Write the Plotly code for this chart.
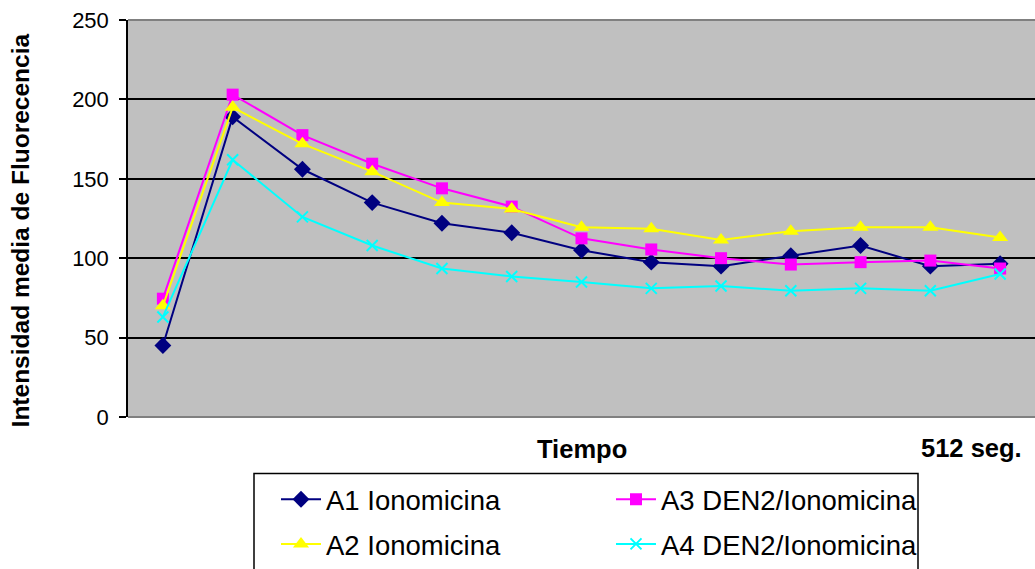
import plotly.graph_objects as go

# ---- data ----
time_points = list(range(1, 14))
a1_ionomicina = [45, 189, 156, 135, 122, 116, 105, 97.5, 95, 101.5, 108, 95, 96.5]
a3_den2 = [74.5, 203, 177.5, 159.5, 144, 132.5, 112.5, 105.5, 100, 96, 97.5, 98.5, 93.5]
a2_ionomicina = [70, 195, 172, 154.5, 135, 131, 119.5, 118.5, 111.5, 117, 119.5, 119.5, 113]
a4_den2 = [63, 162, 126, 108, 93.5, 88.5, 85, 81, 82.5, 79.5, 81, 79.5, 90]

y_ticks = [0, 50, 100, 150, 200, 250]

FONT = "Arial, Liberation Sans, sans-serif"

series = [
    ("A1 Ionomicina", a1_ionomicina, "#000080", "diamond", 13, "legend"),
    ("A3 DEN2/Ionomicina", a3_den2, "#FF00FF", "square", 12, "legend2"),
    ("A2 Ionomicina", a2_ionomicina, "#FFFF00", "triangle-up", 14, "legend3"),
    ("A4 DEN2/Ionomicina", a4_den2, "#00FFFF", "x-thin", 11, "legend4"),
]

fig = go.Figure()
for name, vals, color, sym, size, leg in series:
    fig.add_trace(go.Scatter(
        x=time_points, y=vals, name=name, mode="lines+markers",
        line=dict(color=color, width=2),
        marker=dict(symbol=sym, size=size, color=color,
                    line=dict(color=color, width=2 if sym == "x-thin" else 0)),
        legend=leg,
    ))

W, H = 1035, 569
L, R, T, B = 128, 0, 20, 149
pw, ph = W - L - R, H - T - B

def px_x(px):
    return (px - L) / pw

def px_y(py):
    return (H - B - py) / ph

legend_common = dict(font=dict(family=FONT, size=27.5, color="black"),
                     bgcolor="rgba(0,0,0,0)", borderwidth=0,
                     xanchor="left", yanchor="middle", itemwidth=40)

fig.update_layout(
    width=W, height=H,
    margin=dict(l=L, r=R, t=T, b=B),
    paper_bgcolor="white",
    plot_bgcolor="#C0C0C0",
    font=dict(family=FONT, color="black"),
    showlegend=True,
    legend=dict(x=px_x(276), y=px_y(503), **legend_common),
    legend2=dict(x=px_x(611), y=px_y(503), **legend_common),
    legend3=dict(x=px_x(276), y=px_y(548), **legend_common),
    legend4=dict(x=px_x(611), y=px_y(548), **legend_common),
    xaxis=dict(
        range=[0.5, 13.5], showticklabels=False, ticks="", showgrid=False,
        zeroline=False, showline=False,
    ),
    yaxis=dict(
        range=[0, 250], tickvals=y_ticks, ticks="outside", ticklen=7,
        tickcolor="black", tickwidth=1.5,
        tickfont=dict(family=FONT, size=22, color="black"),
        ticklabelstandoff=6,
        showgrid=True, gridcolor="black", gridwidth=2,
        zeroline=False, showline=True, linecolor="black", linewidth=1.5,
    ),
    shapes=[
        dict(type="line", xref="paper", yref="paper", x0=0, x1=1, y0=1, y1=1,
             line=dict(color="#808080", width=2), layer="above"),
        dict(type="line", xref="paper", yref="paper", x0=0, x1=1, y0=0, y1=0,
             line=dict(color="#808080", width=2), layer="above"),
        dict(type="rect", xref="paper", yref="paper",
             x0=px_x(254), x1=px_x(918), y0=px_y(477), y1=px_y(575),
             line=dict(color="black", width=1.5), fillcolor="rgba(0,0,0,0)"),
    ],
    annotations=[
        dict(text="<b>Intensidad media de Fluorecencia</b>", xref="paper", yref="paper",
             x=px_x(20), y=px_y(232), textangle=-90, showarrow=False,
             xanchor="center", yanchor="middle",
             font=dict(family=FONT, size=24.5, color="black")),
        dict(text="<b>Tiempo</b>", xref="paper", yref="paper",
             x=px_x(582), y=px_y(452), showarrow=False,
             xanchor="center", yanchor="middle",
             font=dict(family=FONT, size=25.5, color="black")),
        dict(text="<b>512 seg.</b>", xref="paper", yref="paper",
             x=px_x(971), y=px_y(451), showarrow=False,
             xanchor="center", yanchor="middle",
             font=dict(family=FONT, size=25.5, color="black")),
    ],
)

fig.write_html("out.html")
